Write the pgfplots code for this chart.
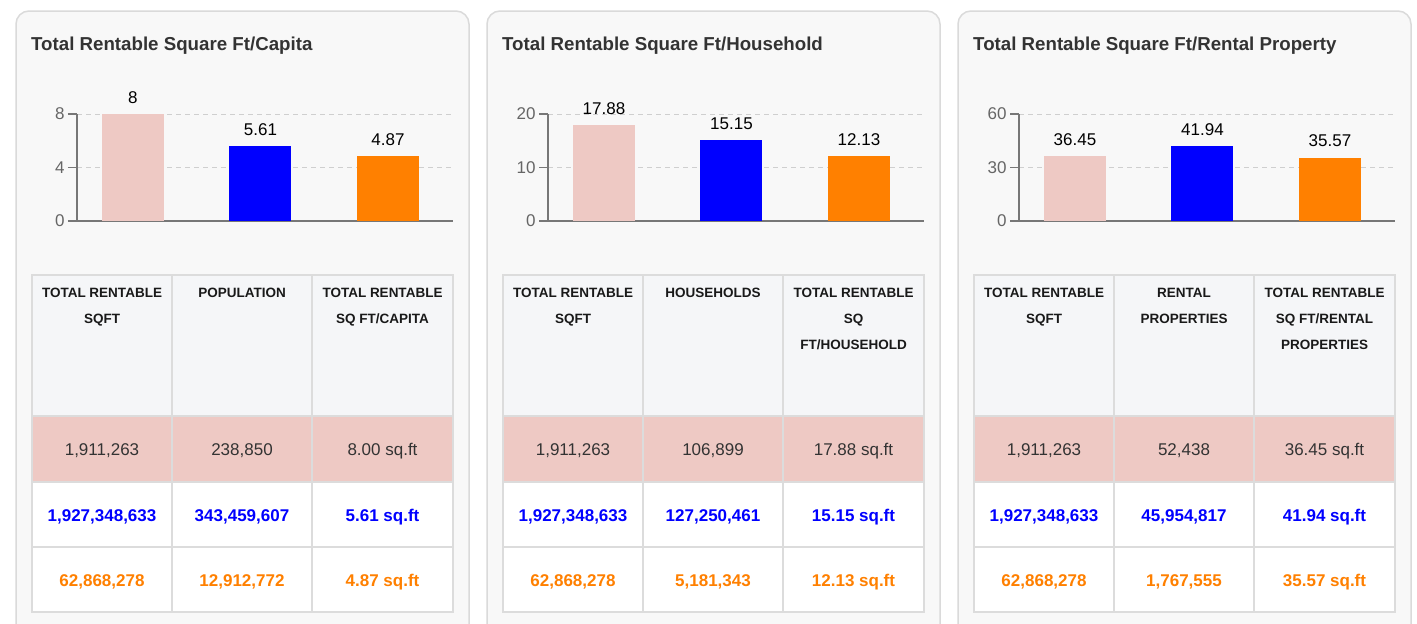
\documentclass[border=0pt]{standalone}
\usepackage{pgfplots}
\pgfplotsset{compat=1.18}
\usepackage{fontspec}
\setmainfont{Liberation Sans}
\definecolor{pinkc}{HTML}{EEC9C4}
\definecolor{bluec}{HTML}{0000FF}
\definecolor{orangec}{HTML}{FF8000}
\definecolor{cardbg}{HTML}{F8F8F8}
\definecolor{cardborder}{HTML}{DADADA}
\definecolor{headbg}{HTML}{F5F6F8}
\definecolor{tabline}{HTML}{DCDCDC}
\definecolor{gridc}{HTML}{CFCFCF}
\definecolor{titlec}{HTML}{333333}
\definecolor{tickc}{HTML}{666666}
\definecolor{axisc}{HTML}{777777}
\newcommand{\fs}[1]{\fontsize{#1}{#1}\selectfont}

\pgfplotsset{panelaxis/.style={
  scale only axis, width=376pt, height=107pt,
  anchor=south west,
  xmin=-0.439, xmax=2.51, ymin=0,
  enlargelimits=false,
  axis x line=bottom, axis y line=left,
  axis line style={draw=axisc, line width=1.5pt, -},
  xtick=\empty,
  tick align=outside, major tick length=9pt,
  ytick style={draw=axisc, line width=1.2pt},
  yticklabel style={font=\fs{17}, text=tickc},
  ymajorgrids, grid style={draw=gridc, line width=1pt, dash pattern=on 5pt off 4pt},
  ybar, bar width=62pt, bar shift=0pt,
  clip=false,
  nodes near coords,
  every node near coord/.append style={font=\fs{17}, text=black, yshift=7pt},
  /pgf/number format/assume math mode=true,
}}

\tikzset{
  hd/.style={anchor=base, inner sep=0, font=\fs{13.5}\bfseries, text=black!90},
  r1/.style={anchor=base, inner sep=0, font=\fs{17}, text=titlec},
  r2/.style={anchor=base, inner sep=0, font=\fs{17}\bfseries, text=bluec},
  r3/.style={anchor=base, inner sep=0, font=\fs{17}\bfseries, text=orangec},
}

\newcommand{\cardframe}[1]{%
  \draw[draw=cardborder, fill=cardbg, line width=1.5pt, rounded corners=13pt] (16,-11) rectangle (469,-660);
  \fill[headbg] (32,-275) rectangle (453,-416);
  \fill[pinkc] (32,-416) rectangle (453,-482);
  \fill[white] (32,-482) rectangle (453,-612);
  \foreach \yy in {275,416,482,547,612} \draw[tabline, line width=2pt] (31,-\yy) -- (454,-\yy);
  \foreach \xx in {32,172,312,453} \draw[tabline, line width=2pt] (\xx,-275) -- (\xx,-612);
  \node[anchor=base west, inner sep=0, font=\fs{18.7}\bfseries, text=titlec] at (31,-50) {#1};
}
\newcommand{\tabrows}[9]{%
  \node[r1] at (102,-455) {#1}; \node[r1] at (242,-455) {#2}; \node[r1] at (382.5,-455) {#3};
  \node[r2] at (102,-521.5) {#4}; \node[r2] at (242,-521.5) {#5}; \node[r2] at (382.5,-521.5) {#6};
  \node[r3] at (102,-586.5) {#7}; \node[r3] at (242,-586.5) {#8}; \node[r3] at (382.5,-586.5) {#9};
}

\begin{document}
\begin{tikzpicture}[x=1pt,y=1pt]
\path[use as bounding box] (0,0) rectangle (1417,-624);
\clip (0,0) rectangle (1417,-624);
\fill[white] (0,0) rectangle (1417,-624);

% Panel 1
\begin{scope}
  \cardframe{Total Rentable Square Ft/Capita}
  \node[hd] at (102,-297) {TOTAL RENTABLE};
  \node[hd] at (102,-323) {SQFT};
  \node[hd] at (242,-297) {POPULATION};
  \node[hd] at (382.5,-297) {TOTAL RENTABLE};
  \node[hd] at (382.5,-323) {SQ FT/CAPITA};
  \tabrows{1,911,263}{238,850}{8.00 sq.ft}{1,927,348,633}{343,459,607}{5.61 sq.ft}{62,868,278}{12,912,772}{4.87 sq.ft}
\end{scope}

% Panel 2
\begin{scope}[xshift=471pt]
  \cardframe{Total Rentable Square Ft/Household}
  \node[hd] at (102,-297) {TOTAL RENTABLE};
  \node[hd] at (102,-323) {SQFT};
  \node[hd] at (242,-297) {HOUSEHOLDS};
  \node[hd] at (382.5,-297) {TOTAL RENTABLE};
  \node[hd] at (382.5,-323) {SQ};
  \node[hd] at (382.5,-349) {FT/HOUSEHOLD};
  \tabrows{1,911,263}{106,899}{17.88 sq.ft}{1,927,348,633}{127,250,461}{15.15 sq.ft}{62,868,278}{5,181,343}{12.13 sq.ft}
\end{scope}

% Panel 3
\begin{scope}[xshift=942pt]
  \cardframe{Total Rentable Square Ft/Rental Property}
  \node[hd] at (102,-297) {TOTAL RENTABLE};
  \node[hd] at (102,-323) {SQFT};
  \node[hd] at (242,-297) {RENTAL};
  \node[hd] at (242,-323) {PROPERTIES};
  \node[hd] at (382.5,-297) {TOTAL RENTABLE};
  \node[hd] at (382.5,-323) {SQ FT/RENTAL};
  \node[hd] at (382.5,-349) {PROPERTIES};
  \tabrows{1,911,263}{52,438}{36.45 sq.ft}{1,927,348,633}{45,954,817}{41.94 sq.ft}{62,868,278}{1,767,555}{35.57 sq.ft}
\end{scope}

\begin{axis}[panelaxis, at={(77pt,-221pt)}, ymax=8, ytick={0,4,8}]
  \addplot[fill=pinkc, draw=none] coordinates {(0,8)};
  \addplot[fill=bluec, draw=none] coordinates {(1,5.61)};
  \addplot[fill=orangec, draw=none] coordinates {(2,4.87)};
\end{axis}
\begin{axis}[panelaxis, at={(548pt,-221pt)}, ymax=20, ytick={0,10,20}]
  \addplot[fill=pinkc, draw=none] coordinates {(0,17.88)};
  \addplot[fill=bluec, draw=none] coordinates {(1,15.15)};
  \addplot[fill=orangec, draw=none] coordinates {(2,12.13)};
\end{axis}
\begin{axis}[panelaxis, at={(1019pt,-221pt)}, ymax=60, ytick={0,30,60}]
  \addplot[fill=pinkc, draw=none] coordinates {(0,36.45)};
  \addplot[fill=bluec, draw=none] coordinates {(1,41.94)};
  \addplot[fill=orangec, draw=none] coordinates {(2,35.57)};
\end{axis}
\end{tikzpicture}
\end{document}
